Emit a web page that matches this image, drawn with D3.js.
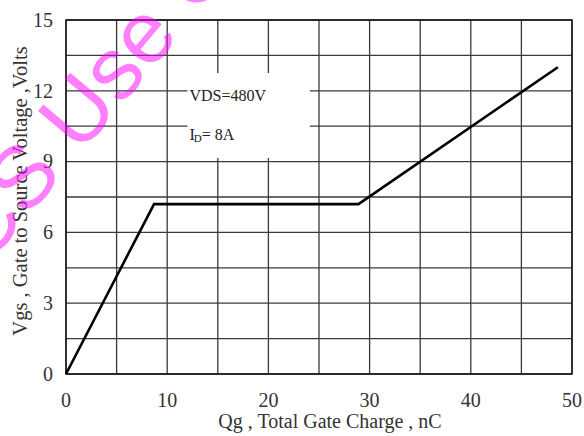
<!DOCTYPE html>
<html>
<head>
<meta charset="utf-8">
<script src="https://cdn.jsdelivr.net/npm/d3@7"></script>
<style>
  body { margin: 0; background: #fff; }
  svg { display: block; font-family: "Liberation Serif", "Times New Roman", serif; }
</style>
</head>
<body>
<div id="chart"></div>
<script>
// gate charge curve
var qg = [0, 8.7, 28.9, 48.6]
var vgs = [0, 7.2, 7.2, 13.0]

var xTicks = [0, 10, 20, 30, 40, 50]
var yTicks = [0, 3, 6, 9, 12, 15]
var xGrid = d3.range(0, 50.01, 5)
var yGrid = d3.range(0, 15.01, 1.5)

var xTitle = "Qg , Total Gate Charge , nC"
var yTitle = "Vgs , Gate to Source Voltage ,Volts"
var noteVds = "VDS=480V"
// annotation box in data units (gridlines are hidden behind it)
var noteBoxQ = [12, 24.1]
var noteBoxV = [9.15, 12.75]

var w = 584, h = 436
var margin = {left: 66, right: 12, top: 20, bottom: 62}

var svg = d3.select("#chart")
  .append("svg")
  .attr("width", w)
  .attr("height", h)

var x = d3.scaleLinear().domain([0, 50]).range([margin.left, w - margin.right])
var y = d3.scaleLinear().domain([0, 15]).range([h - margin.bottom, margin.top])

// grid
var grid = svg.append("g")
grid.selectAll(".vx")
  .data(xGrid)
  .join("line")
  .attr("x1", d => x(d)).attr("x2", d => x(d))
  .attr("y1", y(0)).attr("y2", y(15))
  .attr("stroke", "#3a3a3a")
  .attr("stroke-width", 1.3)
grid.selectAll(".hy")
  .data(yGrid)
  .join("line")
  .attr("x1", x(0)).attr("x2", x(50))
  .attr("y1", d => y(d)).attr("y2", d => y(d))
  .attr("stroke", "#3a3a3a")
  .attr("stroke-width", 1.3)

// white box behind the note
svg.append("rect")
  .attr("x", x(noteBoxQ[0]))
  .attr("y", y(noteBoxV[1]))
  .attr("width", x(noteBoxQ[1]) - x(noteBoxQ[0]))
  .attr("height", y(noteBoxV[0]) - y(noteBoxV[1]))
  .attr("fill", "#fff")

// frame
svg.append("rect")
  .attr("x", x(0)).attr("y", y(15))
  .attr("width", x(50) - x(0)).attr("height", y(0) - y(15))
  .attr("fill", "none")
  .attr("stroke", "#111")
  .attr("stroke-width", 1.4)

// tick labels
svg.append("g")
  .selectAll("text")
  .data(xTicks)
  .join("text")
  .attr("x", d => x(d))
  .attr("y", y(0) + 33)
  .attr("text-anchor", "middle")
  .attr("font-size", 20)
  .attr("fill", "#333")
  .text(d => d)

svg.append("g")
  .selectAll("text")
  .data(yTicks)
  .join("text")
  .attr("x", x(0) - 13)
  .attr("y", d => y(d))
  .attr("dy", "0.34em")
  .attr("text-anchor", "end")
  .attr("font-size", 20)
  .attr("fill", "#333")
  .text(d => d)

// axis titles
svg.append("text")
  .attr("x", 330)
  .attr("y", 428)
  .attr("text-anchor", "middle")
  .attr("font-size", 20)
  .attr("fill", "#333")
  .text(xTitle)

svg.append("text")
  .attr("transform", "translate(27,191) rotate(-90)")
  .attr("text-anchor", "middle")
  .attr("font-size", 20.5)
  .attr("fill", "#333")
  .text(yTitle)

// note
svg.append("text")
  .attr("x", x(noteBoxQ[0]) + 2)
  .attr("y", 101)
  .attr("font-size", 16)
  .attr("fill", "#222")
  .text(noteVds)

var id = svg.append("text")
  .attr("x", x(noteBoxQ[0]) + 2)
  .attr("y", 140)
  .attr("font-size", 16)
  .attr("fill", "#222")
id.append("tspan").text("I")
id.append("tspan").attr("font-size", 11).attr("dy", 2).attr("dx", -1).text("D")
id.append("tspan").attr("dy", -2).text("= 8A")

// curve
var line = d3.line()
  .x(function(d, i) { return x(qg[i]) })
  .y(function(d) { return y(d) })

svg.append("path")
  .attr("d", line(vgs))
  .attr("fill", "none")
  .attr("stroke", "#000")
  .attr("stroke-width", 2.6)
  .attr("stroke-linejoin", "miter")

// pink watermark
var wmSize = 88
var wm = svg.append("g")
  .attr("transform", "translate(80,155) rotate(-50)")
  .attr("font-family", "'Liberation Sans', Arial, sans-serif")
  .attr("font-size", wmSize)
  .attr("fill", "#ff00ff")
  .attr("fill-opacity", 0.5)
wm.append("text").attr("x", 0).text("Use Only")
wm.append("text").attr("x", -0.278 * wmSize).attr("text-anchor", "end").text("CS")
</script>
</body>
</html>
